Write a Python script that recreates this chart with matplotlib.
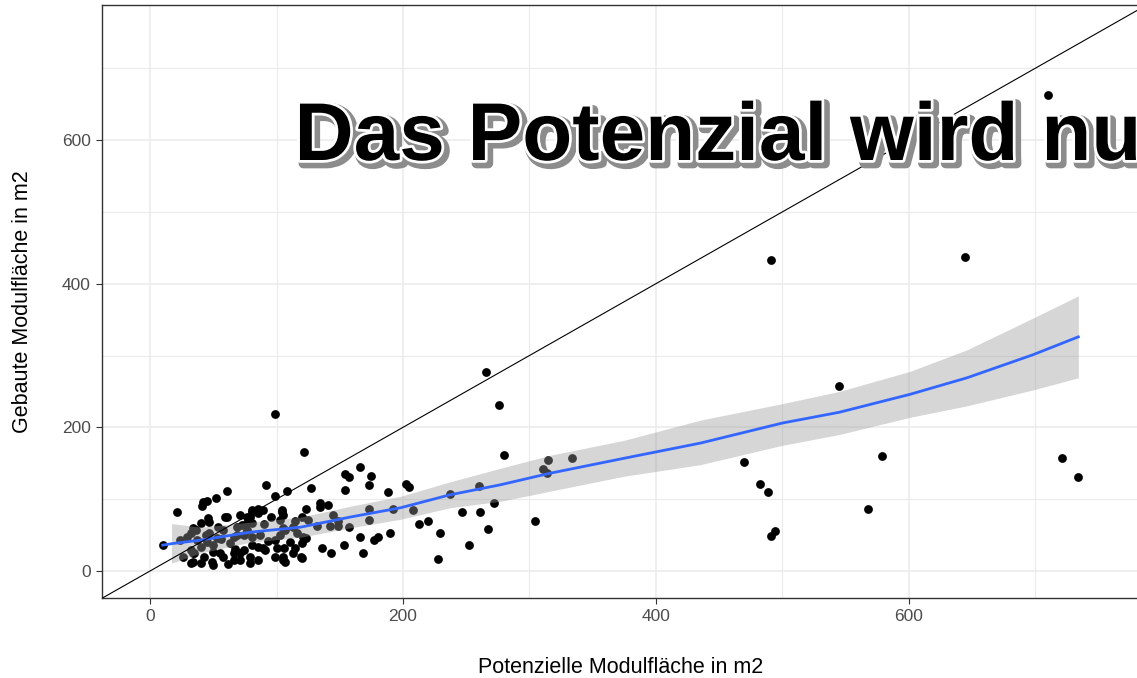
import matplotlib
matplotlib.use("Agg")
import matplotlib.pyplot as plt
import matplotlib.patheffects as pe
import numpy as np

plt.rcParams['font.family'] = ['Liberation Sans', 'DejaVu Sans']

# potential vs built module area (m2)
pot = [710, 491, 644, 266, 276, 99, 545, 122, 280, 470, 579, 721, 734, 482, 489, 568, 494, 491,
       304, 315, 311, 314, 334,
       205, 208, 213, 220, 229, 228, 237, 247, 252, 260, 261, 267, 272,
       108, 127, 154, 157, 166, 175, 154, 173, 188, 202, 134, 141, 134, 123, 104, 105, 120, 145,
       149, 173, 173, 192, 132, 142, 149, 157, 113, 107, 116, 123, 166, 177, 180, 190, 111, 120,
       153, 136, 106, 115, 143, 168, 105, 119, 107,
       10, 21, 61, 52, 42, 41, 92, 99, 61, 46, 40, 36, 54, 71, 79, 85, 96, 24, 29, 47, 58, 69,
       77, 87, 32, 40, 50, 63, 81, 89, 100, 99, 105, 26, 34, 43, 55, 66, 71, 32, 62, 49,
       45, 81, 56, 73, 90, 35, 67, 44, 93, 115,
       47, 59, 77, 81, 34, 32, 69, 77, 81, 34, 50, 58, 66, 74, 79, 40, 50, 71, 79, 85,
       37, 45, 53, 66, 74, 81, 89, 85, 104, 103, 125, 105, 103, 99, 121, 85, 91, 113, 120]
built = [663, 433, 437, 277, 231, 219, 258, 166, 161, 152, 160, 157, 131, 121, 110, 86, 56, 49,
         70, 155, 142, 136, 157,
         117, 85, 65, 70, 53, 17, 107, 82, 36, 118, 82, 58, 95,
         111, 116, 135, 131, 145, 132, 113, 120, 110, 121, 95, 92, 89, 86, 85, 78, 75, 78,
         70, 86, 71, 86, 63, 63, 63, 61, 61, 57, 53, 46, 47, 43, 47, 53, 40, 39,
         36, 32, 32, 32, 25, 25, 19, 19, 13,
         36, 82, 111, 102, 96, 90, 120, 104, 75, 74, 67, 57, 61, 78, 75, 86, 75, 43, 47, 53, 57, 50,
         57, 50, 29, 33, 36, 39, 36, 32, 32, 19, 15, 19, 13, 19, 25, 15, 25, 11, 10, 13,
         97, 85, 44, 64, 65, 25, 30, 50, 42, 70,
         68, 75, 75, 82, 60, 53, 61, 67, 67, 25, 26, 19, 25, 29, 19, 11, 8, 15, 11, 15,
         43, 40, 46, 47, 50, 47, 85, 81, 82, 71, 71, 60, 50, 43, 47, 33, 29, 25, 18]

# loess smooth with confidence band
smooth_x = [10, 17, 40, 79, 119, 158, 198, 237, 277, 316, 375, 435, 500, 545, 601, 646, 698, 734]
smooth_y = [36, 38, 43, 54, 61, 75, 88, 106, 120, 136, 157, 178, 206, 221, 246, 269, 301, 326]
band_x = [17, 40, 79, 119, 158, 198, 237, 277, 316, 375, 435, 500, 545, 601, 646, 698, 734]
band_lo = [11, 25, 40, 47, 60, 72, 88, 97, 111, 132, 148, 175, 190, 214, 230, 252, 269]
band_hi = [66, 61, 68, 75, 90, 104, 124, 143, 161, 182, 210, 233, 250, 278, 308, 352, 383]

fig = plt.figure(figsize=(11.37, 6.78), dpi=100)
ax = fig.add_axes([0.0897, 0.118, 0.9121, 0.8746])

ax.scatter(pot, built, s=40, color='black', linewidths=0, zorder=2)
ax.fill_between(band_x, band_lo, band_hi, color='#999999', alpha=0.4, linewidth=0, zorder=3)
ax.plot(smooth_x, smooth_y, color='#3366FF', lw=2.0, zorder=4)
ax.axline((0, 0), slope=1, color='black', lw=0.8, zorder=5)

ax.set_xlim(-38, 782)
ax.set_ylim(-37.6, 788)
ax.set_xticks([0, 200, 400, 600])
ax.set_yticks([0, 200, 400, 600])
ax.set_xticks([100, 300, 500, 700], minor=True)
ax.set_yticks([100, 300, 500, 700], minor=True)
ax.grid(which='major', color='#EBEBEB', lw=1.1, zorder=0)
ax.grid(which='minor', color='#EBEBEB', lw=0.8, zorder=0)
ax.set_axisbelow(True)
ax.tick_params(which='major', length=4, width=0.8, color='#333333', labelsize=12.5,
               labelcolor='#4D4D4D', pad=4)
ax.tick_params(which='minor', length=0)
for sp in ax.spines.values():
    sp.set_color('#333333')
    sp.set_linewidth(1.0)

ax.set_xlabel('Potenzielle Modulfläche in m2', fontsize=15.5, labelpad=24)
ax.set_ylabel('Gebaute Modulfläche in m2', fontsize=15.5, labelpad=21)

# overlay headline, cut off at the right edge like in the source
fig.text(0.259, 0.764, 'Das Potenzial wird nu', fontsize=59, fontweight='bold',
         color='black', ha='left', va='baseline',
         path_effects=[pe.Stroke(linewidth=7, foreground='#8C8C8C', offset=(2.5, -2.5)),
                       pe.Stroke(linewidth=4, foreground='white'),
                       pe.Normal()])

fig.savefig('out.png', dpi=100)
